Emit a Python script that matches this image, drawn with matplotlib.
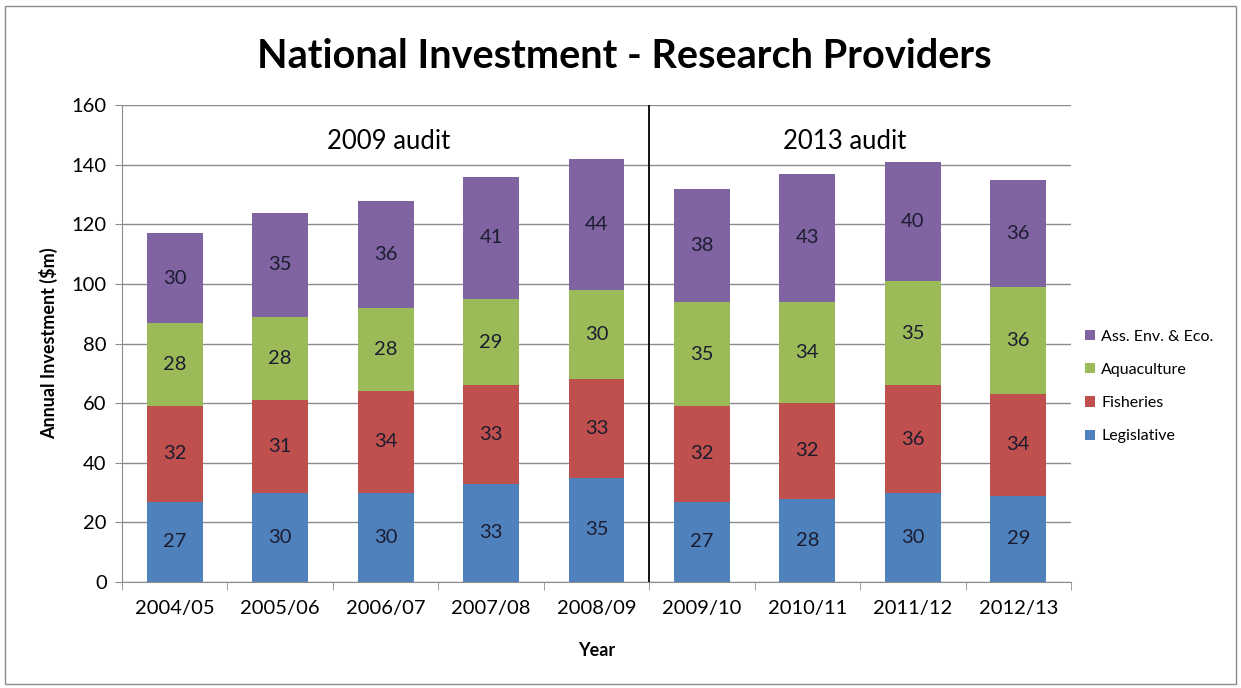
import matplotlib
matplotlib.use("Agg")
import matplotlib.pyplot as plt
from matplotlib.patches import Rectangle
import numpy as np

# Investimento anual por área ($m)
years = ['2004/05', '2005/06', '2006/07', '2007/08', '2008/09',
         '2009/10', '2010/11', '2011/12', '2012/13']
legislative = [27, 30, 30, 33, 35, 27, 28, 30, 29]
fisheries = [32, 31, 34, 33, 33, 32, 32, 36, 34]
aquaculture = [28, 28, 28, 29, 30, 35, 34, 35, 36]
ass_env_eco = [30, 35, 36, 41, 44, 38, 43, 40, 36]

plt.rcParams['font.family'] = ['Lato', 'DejaVu Sans']

series = [
    ('Legislative', legislative, '#4F81BD'),
    ('Fisheries', fisheries, '#C0504D'),
    ('Aquaculture', aquaculture, '#9BBB59'),
    ('Ass. Env. & Eco.', ass_env_eco, '#8064A2'),
]

fig = plt.figure(figsize=(12.41, 6.88), dpi=100)
ax = fig.add_axes([0.0983, 0.154, 0.7647, 0.693])

x = np.arange(len(years))
bottom = np.zeros(len(years))
handles = []
for name, vals, col in series:
    vals = np.array(vals, dtype=float)
    b = ax.bar(x, vals, width=0.53, bottom=bottom, color=col, label=name, zorder=2)
    handles.append(b)
    for xi, v, b0 in zip(x, vals, bottom):
        ax.text(xi, b0 + v / 2, f'{v:.0f}', ha='center', va='center',
                fontsize=14.5, color='#1c1c30', zorder=3)
    bottom += vals

ax.set_xlim(-0.5, len(years) - 0.5)
ax.set_ylim(0, 160)
ax.set_yticks(range(0, 161, 20))
ax.yaxis.grid(True, color='#8c8c8c', linewidth=1, zorder=0)
ax.set_axisbelow(True)

ax.set_xticks(x)
ax.set_xticklabels(years, fontsize=14.5)
ax.set_xticks(np.arange(-0.5, len(years), 1), minor=True)
ax.tick_params(axis='x', which='major', length=0, pad=13)
ax.tick_params(axis='x', which='minor', length=6, color='#8c8c8c')
ax.tick_params(axis='y', labelsize=14.5, length=5, color='#8c8c8c', pad=6)

for s in ['top', 'right']:
    ax.spines[s].set_visible(False)
for s in ['left', 'bottom']:
    ax.spines[s].set_color('#8c8c8c')

# separação entre as duas auditorias
ax.axvline(4.5, color='black', linewidth=1.3, zorder=4)
ax.text(2.03, 148, '2009 audit', ha='center', va='center', fontsize=18.5)
ax.text(6.35, 148, '2013 audit', ha='center', va='center', fontsize=18.5)

ax.set_ylabel('Annual Investment ($m)', fontsize=13, fontweight='bold', labelpad=10)
ax.set_xlabel('Year', fontsize=13, fontweight='bold', labelpad=18)

fig.suptitle('National Investment - Research Providers', x=0.503, y=0.945,
             fontsize=28.5, fontweight='bold')

leg = ax.legend(handles[::-1], [s[0] for s in series][::-1],
                loc='center left', bbox_to_anchor=(1.0, 0.41), frameon=False,
                fontsize=11.5, handlelength=0.6, handleheight=0.6,
                handletextpad=0.4, labelspacing=1.2)

fig.add_artist(Rectangle((0.004, 0.006), 0.992, 0.985, transform=fig.transFigure,
                         fill=False, edgecolor='#8c8c8c', linewidth=1))

fig.savefig('out.png', dpi=100)
